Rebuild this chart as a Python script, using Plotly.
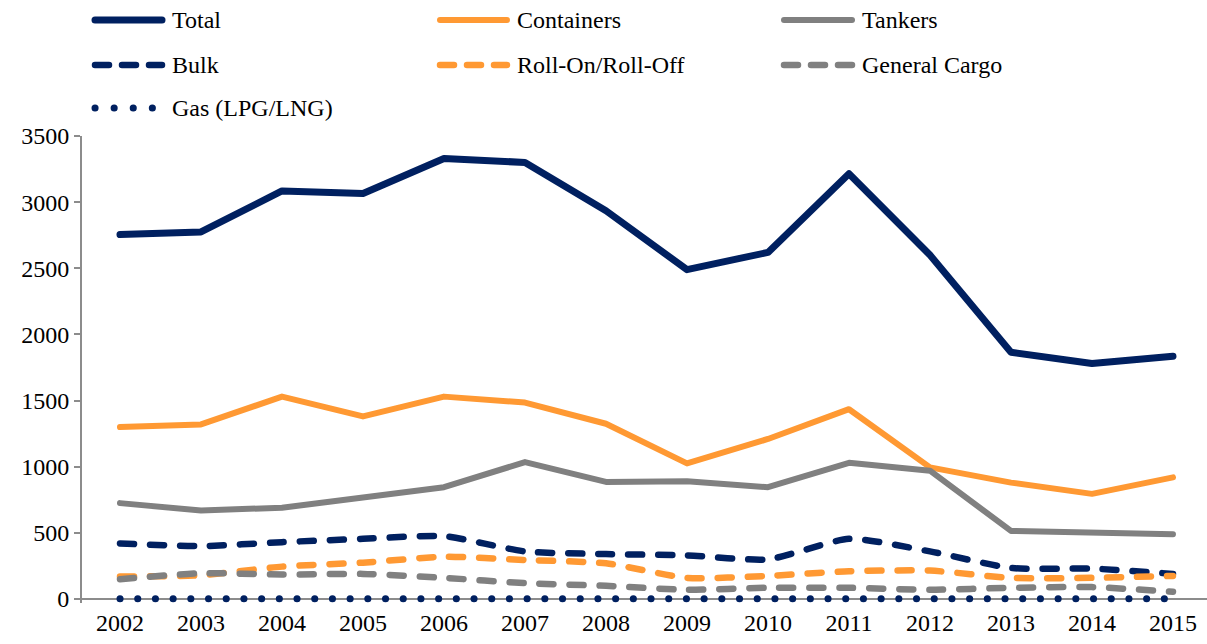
import plotly.graph_objects as go

years = list(range(2002, 2016))
total = [2755, 2775, 3085, 3065, 3330, 3300, 2935, 2490, 2620, 3215, 2600, 1865, 1780, 1835]
containers = [1300, 1320, 1530, 1380, 1530, 1485, 1325, 1025, 1210, 1435, 995, 880, 795, 920]
tankers = [725, 670, 690, 770, 845, 1035, 885, 890, 845, 1030, 970, 515, 505, 490]
bulk = [420, 400, 430, 455, 475, 360, 340, 330, 300, 455, 360, 235, 230, 190]
roro = [170, 180, 245, 275, 320, 295, 270, 160, 175, 210, 215, 160, 160, 175]
general = [150, 195, 185, 190, 160, 120, 100, 70, 85, 85, 70, 85, 90, 55]
gas = [3, 3, 3, 3, 3, 3, 3, 3, 3, 3, 3, 3, 3, 3]

NAVY = "#002060"
ORANGE = "#FF9933"
GRAY = "#808080"
AXIS = "#8C8C8C"
FONT = "Liberation Serif"

DASH = "14px,16px"
DOT = "0.1px,17.6px"
series = [
    ("Total", total, NAVY, 7, "solid", "linear"),
    ("Containers", containers, ORANGE, 6, "solid", "linear"),
    ("Tankers", tankers, GRAY, 6, "solid", "linear"),
    ("Bulk", bulk, NAVY, 6.5, DASH, "spline"),
    ("Roll-On/Roll-Off", roro, ORANGE, 6.5, DASH, "spline"),
    ("General Cargo", general, GRAY, 6.5, DASH, "spline"),
    ("Gas (LPG/LNG)", gas, NAVY, 7, DOT, "linear"),
]

fig = go.Figure()
for name, vals, color, w, dash, shape in series:
    fig.add_trace(go.Scatter(
        x=years, y=vals, name=name, mode="lines",
        line=dict(color=color, width=w, dash=dash, shape=shape, smoothing=0.6),
        showlegend=False,
    ))

# manual legend (3 columns)
L, PW = 82, 1125
B, PH = 599, 463
cols = [(95, 162, 170), (440, 507, 515), (784, 852, 860)]
rows = [20, 65, 108]
shapes = []
annotations = []
YMIN = -30
PH2 = 467  # plot height in px including the small strip below zero
for i, (name, vals, color, w, dash, shape) in enumerate(series):
    c = cols[i % 3]
    r = rows[i // 3]
    py = (603 - r) / PH2
    x0 = (c[0] - L) / PW
    x1 = (c[1] - L) / PW
    ldash = "0.1px,19px" if dash == DOT else dash
    if dash == DASH:
        ldash = "14px,13px"
    shapes.append(dict(type="line", xref="paper", yref="paper", x0=x0, x1=x1, y0=py, y1=py,
                       line=dict(color=color, width=w, dash=ldash)))
    annotations.append(dict(text=name, xref="paper", yref="paper", x=(c[2] - L) / PW, y=py,
                            xanchor="left", yanchor="middle", showarrow=False,
                            font=dict(family=FONT, size=24, color="#000000")))

fig.update_layout(
    width=1207, height=644,
    margin=dict(l=82, r=0, t=136, b=41),
    paper_bgcolor="white", plot_bgcolor="white",
    shapes=shapes, annotations=annotations,
    font=dict(family=FONT, size=24, color="#000000"),
    xaxis=dict(range=[2001.531, 2015.42], tickmode="array", tickvals=years,
               ticktext=[str(y) for y in years], showgrid=False, zeroline=False,
               showline=False, ticks="",
               ticklabelstandoff=3, tickfont=dict(family=FONT, size=24)),
    yaxis=dict(range=[YMIN, 3500], tickvals=[0, 500, 1000, 1500, 2000, 2500, 3000, 3500],
               showgrid=False, zeroline=True, zerolinecolor=AXIS, zerolinewidth=2,
               showline=True, linecolor=AXIS,
               linewidth=2, ticks="outside", ticklen=6, tickcolor=AXIS, tickwidth=2,
               tickfont=dict(family=FONT, size=24)),
)

js = """
document.body.style.margin='0';document.body.style.padding='0';document.body.style.overflow='hidden';
function roundCaps(){
  document.querySelectorAll('.scatterlayer path.js-line, .shapelayer path').forEach(function(p){
    p.style.strokeLinecap='round'; p.style.strokeLinejoin='round';
  });
}
roundCaps();
var gd=document.getElementById('{plot_id}');
if(gd && gd.on){gd.on('plotly_afterplot', roundCaps);}
"""
fig.write_html("out.html", post_script=js, config={"displayModeBar": False})
